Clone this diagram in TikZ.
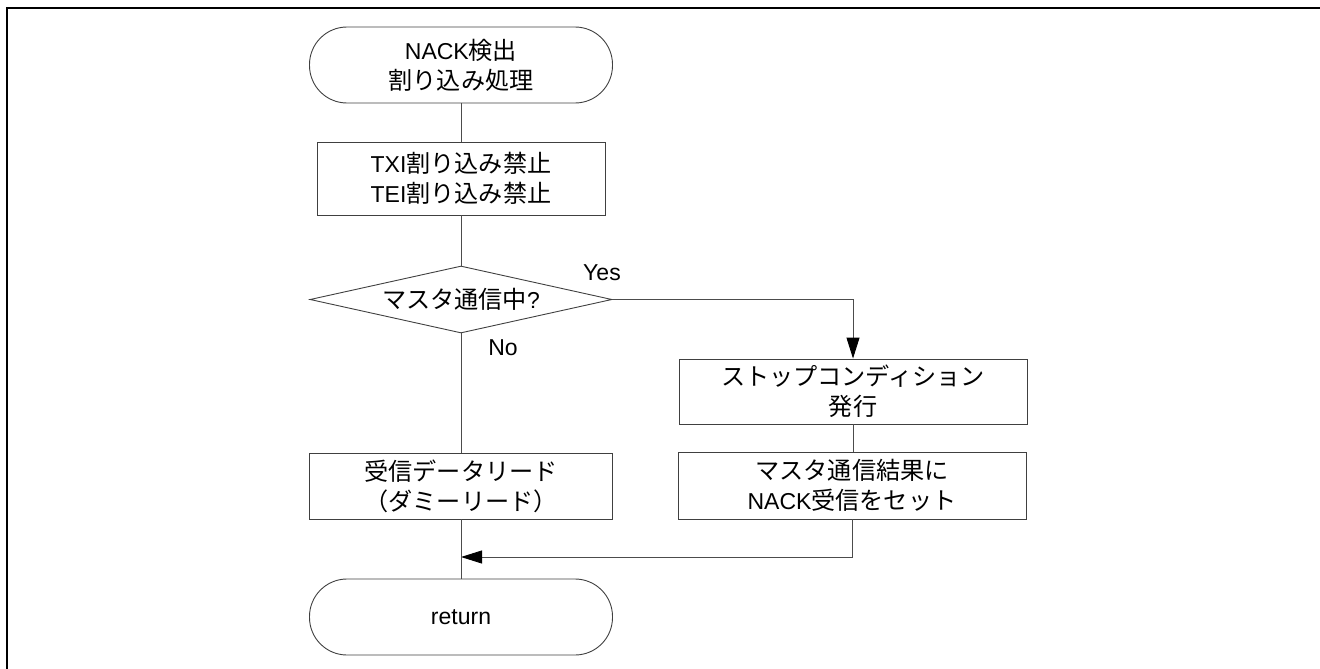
\documentclass[tikz,border=0pt]{standalone}
\usepackage{fontspec}
\setmainfont{Liberation Sans}
\newfontfamily\jpfont[Scale=1.05]{Noto Sans CJK JP}
\newcommand\J[1]{{\jpfont #1}}
\usetikzlibrary{shapes.geometric,arrows.meta}
\begin{document}
\begin{tikzpicture}[x=1pt,y=-1pt,
  every node/.style={font=\fontsize{23}{30}\selectfont, align=center, inner sep=0pt},
  procbox/.style={draw=black!75, line width=0.9pt, rectangle, minimum height=66pt},
  termbox/.style={draw=black!75, line width=0.9pt, rectangle, rounded corners=37.5pt, minimum width=303pt, minimum height=76pt},
  decbox/.style={draw=black!75, line width=0.9pt, diamond, aspect=4.5, minimum width=302pt, minimum height=67pt},
  conn/.style={draw=black!70, line width=0.9pt},
  arr/.style={conn, -{Triangle[length=21pt,width=13pt,fill=black,color=black]}},
  lbl/.style={font=\fontsize{23}{30}\selectfont}
]
\useasboundingbox (0,0) rectangle (1320,669);
% frame
\draw[line width=2.6pt] (1320,8) -- (7,8) -- (7,669);

\node[termbox] (start) at (461,65) {NACK\J{検出}\\\J{割り込み処理}};
\node[procbox, minimum width=288pt, minimum height=73pt] (dis) at (461,178.5) {TXI\J{割り込み禁止}\\TEI\J{割り込み禁止}};
\node[decbox] (dec) at (461,299.5) {\J{マスタ通信中}?};
\node[procbox, minimum width=348pt, minimum height=65pt] (stop) at (853,391.5) {\J{ストップコンディション}\\\J{発行}};
\node[procbox, minimum width=348pt, minimum height=67pt] (set) at (852,485.5) {\J{マスタ通信結果に}\\NACK\J{受信をセット}};
\node[procbox, minimum width=303pt, minimum height=66pt] (read) at (461,486) {\J{受信データリード}\\\J{（ダミーリード）}};
\node[termbox] (ret) at (461,617) {return};

\node[lbl] (yes) at (602,273) {Yes};
\node[lbl] (no) at (503,348) {No};

\coordinate (yc) at (853,299.5);
\coordinate (mc) at (852,557);
\coordinate (mj) at (461,557);

\draw[conn] (start.south) -- (dis.north);
\draw[conn] (dis.south) -- (dec.north);
\draw[arr] (dec.east) -- (yc) -- (stop.north);
\draw[conn] (dec.south) -- (read.north);
\draw[conn] (stop.south) -- (stop.south |- set.north);
\draw[arr] (set.south) -- (mc) -- (mj);
\draw[conn] (read.south) -- (ret.north);
\end{tikzpicture}
\end{document}
